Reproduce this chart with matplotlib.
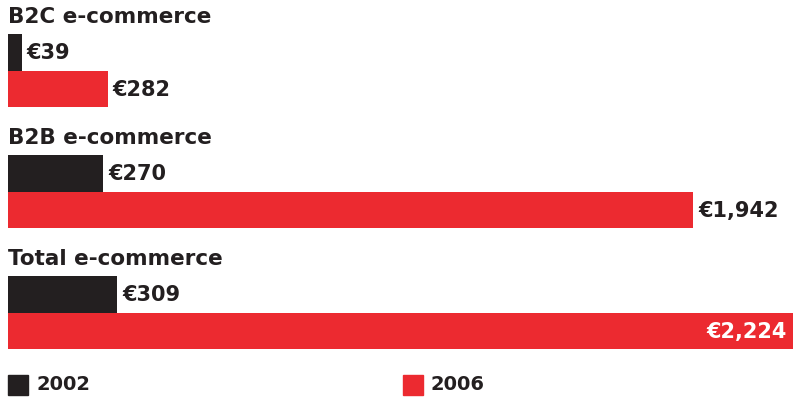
import matplotlib
matplotlib.use("Agg")
import matplotlib.pyplot as plt
from matplotlib.patches import Rectangle

# Spending figures, in millions of euros
groups = ["B2C e-commerce", "B2B e-commerce", "Total e-commerce"]
values_2002 = [39, 270, 309]
values_2006 = [282, 1942, 2224]
years = ["2002", "2006"]

DARK = "#231f20"
RED = "#ec2a30"
W, H = 793, 398

plt.rcParams["font.family"] = ["DejaVu Sans"]

fig = plt.figure(figsize=(W / 100, H / 100), dpi=100)
fig.patch.set_facecolor("white")

# axes in pixel-like vertical units, data units horizontally
x0 = 8
ax = fig.add_axes([x0 / W, 0, (W - x0) / W, 1])
ax.set_xlim(0, max(values_2006))
ax.set_ylim(H, 0)
ax.axis("off")

bar_h = 36.5
group_step = 121
first_top = 34
title_fs = 15.5
value_fs = 15

for i, (name, v02, v06) in enumerate(zip(groups, values_2002, values_2006)):
    top = first_top + i * group_step
    ax.text(0, top - 17, name, fontsize=title_fs, fontweight="bold", color=DARK,
            va="center", ha="left")
    ax.barh(top + bar_h / 2, v02, height=bar_h, left=0, color=DARK)
    ax.barh(top + bar_h * 1.5, v06, height=bar_h, left=0, color=RED)
    ax.annotate(f"€{v02:,}", (v02, top + bar_h / 2 + 1), xytext=(3.5, 0),
                textcoords="offset points", fontsize=value_fs, fontweight="bold",
                color=DARK, va="center", ha="left")
    if v06 == max(values_2006):
        ax.annotate(f"€{v06:,}", (v06, top + bar_h * 1.5 + 1), xytext=(-4.5, 0),
                    textcoords="offset points", fontsize=value_fs,
                    fontweight="bold", color="white", va="center", ha="right")
    else:
        ax.annotate(f"€{v06:,}", (v06, top + bar_h * 1.5 + 1), xytext=(3.5, 0),
                    textcoords="offset points", fontsize=value_fs,
                    fontweight="bold", color=DARK, va="center", ha="left")

# legend squares along the bottom
for lx, label, color in zip([8, 403], years, [DARK, RED]):
    fig.patches.append(Rectangle((lx / W, 3 / H), 20 / W, 20 / H,
                                 transform=fig.transFigure, color=color))
    fig.text((lx + 28) / W, 13 / H, label, fontsize=14, fontweight="bold",
             color=DARK, va="center", ha="left")

fig.savefig("out.png", dpi=100, facecolor="white")
